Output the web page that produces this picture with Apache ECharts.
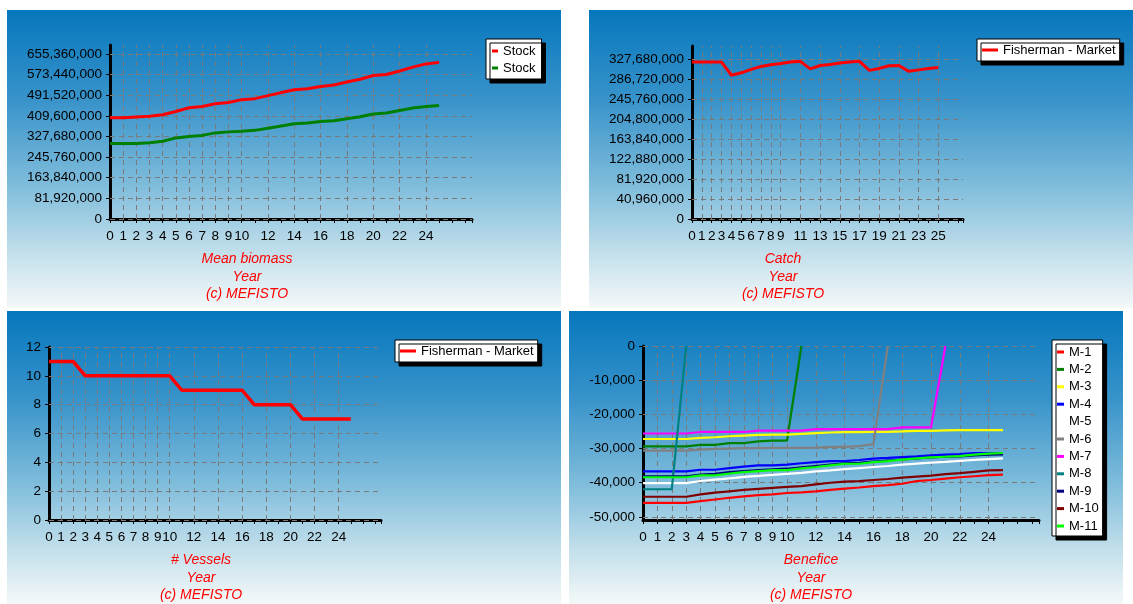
<!DOCTYPE html>
<html><head><meta charset="utf-8">
<script src="https://cdn.jsdelivr.net/npm/echarts@6/dist/echarts.min.js"></script>
<style>
html,body{margin:0;padding:0;background:#fff;width:1133px;height:604px;overflow:hidden}
.p{position:absolute}
</style></head><body>
<div id="c1" class="p" style="left:7px;top:10px;width:554px;height:298px"></div>
<div id="c2" class="p" style="left:589px;top:10px;width:544px;height:298px"></div>
<div id="c3" class="p" style="left:7px;top:311px;width:554px;height:293px"></div>
<div id="c4" class="p" style="left:569px;top:311px;width:554px;height:293px"></div>
<script>
// ---------- data ----------
const years = [0,1,2,3,4,5,6,7,8,9,10,11,12,13,14,15,16,17,18,19,20,21,22,23,24,25];

const xLabelsEven = [0,1,2,3,4,5,6,7,8,9,10,12,14,16,18,20,22,24];
const xLabelsOdd  = [0,1,2,3,4,5,6,7,8,9,11,13,15,17,19,21,23,25];

// Panel 1 : Mean biomass
const biomassTicks = [0,81920000,163840000,245760000,327680000,409600000,491520000,573440000,655360000];
const stockRed   = [402e6,402e6,405e6,408e6,414e6,427e6,442e6,447e6,458e6,463e6,474e6,478e6,490e6,502e6,513e6,517e6,526e6,532e6,544e6,555e6,570e6,574e6,588e6,603e6,616e6,622e6];
const stockGreen = [300e6,300e6,300e6,303e6,309e6,322e6,328e6,332e6,342e6,346e6,348e6,352e6,360e6,369e6,378e6,381e6,387e6,390e6,398e6,406e6,417e6,421e6,431e6,441e6,447e6,451e6];

// Panel 2 : Catch
const catchTicks = [0,40960000,81920000,122880000,163840000,204800000,245760000,286720000,327680000];
const catchVals = [322e6,322e6,322e6,322e6,295e6,300e6,307e6,313e6,316.5e6,319e6,322e6,323.5e6,308e6,315e6,317e6,320e6,322e6,323.5e6,305e6,309e6,314.5e6,315e6,303e6,306e6,309e6,311e6];

// Panel 3 : # Vessels
const vesselTicks = [0,2,4,6,8,10,12];
const vessels = [11,11,11,10,10,10,10,10,10,10,10,9,9,9,9,9,9,8,8,8,8,7,7,7,7,7];

// Panel 4 : Benefice
const beneTicks = [-50000,-40000,-30000,-20000,-10000,0];
const m1  = [-45900,-45900,-45900,-45900,-45400,-44900,-44400,-44000,-43600,-43400,-43000,-42800,-42500,-42100,-41700,-41400,-41000,-40700,-40300,-39500,-39200,-38800,-38400,-38100,-37800,-37600];
const m2  = [-29350,-29350,-29350,-29350,-28900,-28900,-28400,-28400,-27900,-27700,-27700,0];
const m3  = [-27200,-27200,-27200,-27200,-26900,-26700,-26400,-26200,-26000,-25900,-25900,-25700,-25500,-25300,-25200,-25200,-25100,-25100,-25000,-24800,-24800,-24700,-24600,-24600,-24600,-24600];
const m4  = [-36700,-36700,-36700,-36700,-36200,-36200,-35700,-35300,-34900,-34900,-34700,-34300,-33950,-33650,-33650,-33350,-32950,-32750,-32500,-32300,-32000,-31800,-31600,-31300,-31300,-31300];
const m5  = [-40100,-40100,-40100,-40100,-39500,-39100,-38700,-38300,-38000,-37700,-37400,-37100,-36700,-36400,-36000,-35700,-35400,-35100,-34700,-34400,-34100,-33900,-33600,-33300,-33100,-32900];
const m6  = [-30600,-30600,-30600,-30600,-30300,-30100,-30000,-29900,-29900,-29800,-29800,-29800,-29700,-29500,-29500,-29300,-28700,0];
const m7  = [-25600,-25600,-25600,-25600,-25150,-25150,-25150,-25150,-24750,-24750,-24750,-24750,-24300,-24300,-24300,-24300,-24300,-24300,-23800,-23800,-23800,0];
const m8  = [-41900,-41900,-41900,0];
const m9  = [-38100,-38100,-38100,-38100,-37600,-37400,-36900,-36600,-36300,-36100,-35900,-35500,-35100,-34700,-34300,-34200,-33800,-33500,-33200,-32900,-32600,-32400,-32300,-32000,-31800,-31700];
const m10 = [-44100,-44100,-44100,-44100,-43400,-42900,-42500,-42100,-41800,-41500,-41200,-41000,-40500,-40000,-39700,-39500,-39200,-38900,-38500,-38200,-37900,-37500,-37200,-36800,-36400,-36300];
const m11 = [-38400,-38400,-38400,-38400,-37850,-37850,-37300,-36900,-36600,-36300,-36300,-35800,-35400,-34900,-34450,-34450,-33950,-33650,-33250,-32850,-32600,-32400,-32200,-31800,-31500,-31300];
const beneNames  = ['M-1','M-2','M-3','M-4','M-5','M-6','M-7','M-8','M-9','M-10','M-11'];
const beneSeries = [m1,m2,m3,m4,m5,m6,m7,m8,m9,m10,m11];
const beneColors = ['#ff0000','#008000','#ffff00','#0000ff','#ffffff','#808080','#ff00ff','#008080','#000080','#800000','#00ff00'];

// ---------- styling helpers ----------
const FONT = "'Liberation Sans', Arial, sans-serif";
const X_MAX = 27.5;
const BG = {type:'linear',x:0,y:0,x2:0,y2:1,colorStops:[
  {offset:0,color:'#0677bd'},{offset:0.3,color:'#3893ca'},{offset:0.6,color:'#82bedc'},
  {offset:0.82,color:'#c4e0eb'},{offset:1,color:'#f4f8f8'}]};
const GRID_LINE = {color:'#7a7a7a', width:1, type:[5,4]};

function pts(vals){ return vals.map((v,i)=>[years[i], v]); }

function xAxisCfg(labels){
  return {type:'value', min:0, max:X_MAX, interval:1,
    axisLine:{show:true, onZero:false, lineStyle:{color:'#000', width:3}},
    axisTick:{show:true, length:4, lineStyle:{color:'#000', width:1}},
    minorTick:{show:true, splitNumber:4, length:2, lineStyle:{color:'#000', width:1}},
    splitLine:{show:false},
    axisLabel:{margin:10, color:'#000', fontSize:13.5, fontFamily:FONT,
      formatter: v => labels.indexOf(v) >= 0 ? String(v) : ''}
  };
}
function yAxisCfg(ticks, min, max){
  return {type:'value', min:min, max:max,
    axisLine:{show:true, onZero:false, lineStyle:{color:'#000', width:3}},
    axisTick:{show:true, length:4, customValues:ticks, lineStyle:{color:'#000', width:1}},
    splitLine:{show:false},
    axisLabel:{margin:8, color:'#000', fontSize:13.5, fontFamily:FONT, customValues:ticks,
      formatter: v => v.toLocaleString('en-US')}
  };
}
function gridSeries(xLabels, yTicks){
  return {type:'line', data:[], silent:true, z:1,
    markLine:{z:1, silent:true, symbol:['none','none'], animation:false,
      label:{show:false}, lineStyle:GRID_LINE, emphasis:{disabled:true},
      data: xLabels.filter(v=>v>0).map(v=>({xAxis:v})).concat(yTicks.map(v=>({yAxis:v})))}};
}
function lineSeries(name, vals, color, width){
  return {type:'line', name:name, data:pts(vals), showSymbol:false, symbol:'none', z:3,
    lineStyle:{color:color, width:width}, itemStyle:{color:color}, animation:false};
}
function legendCfg(left, names, iw, pad, gap){
  return {orient:'vertical', left:left, top:29, padding:pad, itemGap:gap,
    itemWidth:iw, itemHeight:3, icon:'rect', selectedMode:false,
    backgroundColor:'#fff', borderColor:'#000', borderWidth:1,
    shadowColor:'#000', shadowOffsetX:4, shadowOffsetY:4, shadowBlur:0,
    textStyle:{color:'#000', fontSize:13, fontFamily:FONT, lineHeight:14},
    data:names};
}
function captions(cx, title){
  const font = 'italic 14px ' + FONT;
  return [title,'Year','(c) MEFISTO'].map((t,i)=>({type:'text', x:cx, y:[249,267,284][i],
    style:{text:t, align:'center', verticalAlign:'middle', textAlign:'center', textVerticalAlign:'middle',
      fill:'#ff0000', font:font}}));
}
function make(id, opt){
  const c = echarts.init(document.getElementById(id), null, {renderer:'canvas'});
  opt.backgroundColor = BG;
  opt.animation = false;
  c.setOption(opt);
}

// Panel 1
make('c1', {
  grid:{left:103, top:35, right:89, bottom:89, containLabel:false, outerBoundsMode:'none'},
  xAxis:xAxisCfg(xLabelsEven),
  yAxis:yAxisCfg(biomassTicks, 0, 691000000),
  legend:legendCfg(479, ['Stock','Stock\u200b'], 6, [5,6,4,6], 3),
  graphic:captions(240, 'Mean biomass'),
  series:[gridSeries(xLabelsEven, biomassTicks),
    lineSeries('Stock', stockRed, '#ff0000', 3),
    lineSeries('Stock\u200b', stockGreen, '#008000', 3)]
});
// Panel 2
make('c2', {
  grid:{left:103, top:36, right:170, bottom:89, containLabel:false, outerBoundsMode:'none'},
  xAxis:xAxisCfg(xLabelsOdd),
  yAxis:yAxisCfg(catchTicks, 0, 355000000),
  legend:legendCfg(388, ['Fisherman - Market'], 16, [4,4,4,5], 3),
  graphic:captions(194, 'Catch'),
  series:[gridSeries(xLabelsOdd, catchTicks),
    lineSeries('Fisherman - Market', catchVals, '#ff0000', 3)]
});
// Panel 3
make('c3', {
  grid:{left:42, top:36, right:180, bottom:84, containLabel:false, outerBoundsMode:'none'},
  xAxis:xAxisCfg(xLabelsEven),
  yAxis:yAxisCfg(vesselTicks, 0, 12),
  legend:legendCfg(388, ['Fisherman - Market'], 16, [4,4,4,5], 3),
  graphic:captions(194, '# Vessels'),
  series:[gridSeries(xLabelsEven, vesselTicks),
    lineSeries('Fisherman - Market', vessels, '#ff0000', 3.5)]
});
// Panel 4
make('c4', {
  grid:{left:74, top:35, right:84, bottom:84, containLabel:false, outerBoundsMode:'none'},
  xAxis:xAxisCfg(xLabelsEven),
  yAxis:yAxisCfg(beneTicks, -50900, 0),
  legend:legendCfg(483, beneNames, 7, [5,4,3,5], 3.4),
  graphic:captions(242, 'Benefice'),
  series:[gridSeries(xLabelsEven, beneTicks)].concat(
    beneSeries.map((s,i)=>lineSeries(beneNames[i], s, beneColors[i], 2.2)))
});
</script>
</body></html>
